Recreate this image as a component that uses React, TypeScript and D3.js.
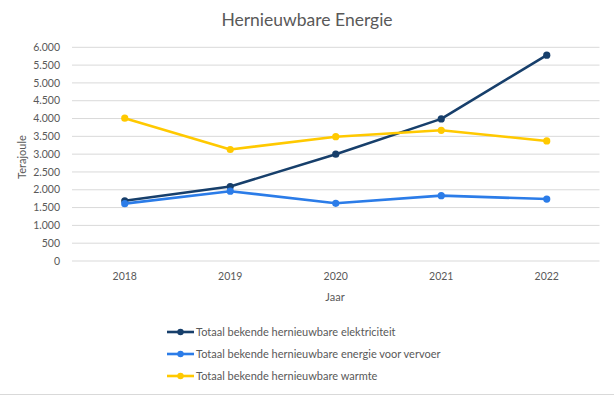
import React from "react";
import * as d3 from "d3";

const years = ["2018", "2019", "2020", "2021", "2022"];
const elektriciteit = [1690, 2090, 3000, 3990, 5780];
const vervoer = [1610, 1960, 1620, 1835, 1740];
const warmte = [4010, 3130, 3490, 3670, 3370];
const yTicks = [0, 500, 1000, 1500, 2000, 2500, 3000, 3500, 4000, 4500, 5000, 5500, 6000];
const seriesNames = [
  "Totaal bekende hernieuwbare elektriciteit",
  "Totaal bekende hernieuwbare energie voor vervoer",
  "Totaal bekende hernieuwbare warmte",
];
const seriesColors = ["#173f6b", "#2b7ce8", "#ffc900"];

const W = 614;
const H = 396;
const FONT = "Lato, 'Open Sans', sans-serif";

export default function App() {
  const x = d3.scaleBand<string>().domain(years).range([72, 599.5]);
  const y = d3.scaleLinear().domain([0, 6000]).range([261, 47.3]);
  const fmt = (v: number) => d3.format(",")(v).replace(/,/g, ".");
  const line = d3
    .line<number>()
    .x((_, i) => (x(years[i]) as number) + x.bandwidth() / 2)
    .y((d) => y(d));
  const allSeries = [elektriciteit, vervoer, warmte];
  const legendY = [332, 354, 376];

  return (
    <svg
      width={W}
      height={H}
      style={{ position: "absolute", left: 0, top: 0, background: "#fff" }}
      fontFamily={FONT}
    >
      <rect x={0} y={0} width={W} height={H} fill="#fff" />
      <text x={307} y={26} textAnchor="middle" fontSize={17.5} fill="#595959">
        Hernieuwbare Energie
      </text>
      {yTicks.map((t) => (
        <g key={t}>
          <line x1={72} x2={599.5} y1={y(t)} y2={y(t)} stroke="#d9d9d9" strokeWidth={1} />
          <text x={60} y={y(t)} dy="0.35em" textAnchor="end" fontSize={10.5} fill="#595959">
            {fmt(t)}
          </text>
        </g>
      ))}
      <text
        transform="translate(22,157) rotate(-90)"
        textAnchor="middle"
        dy="0.35em"
        fontSize={11}
        fill="#595959"
      >
        Terajoule
      </text>
      {years.map((yr) => (
        <text
          key={yr}
          x={(x(yr) as number) + x.bandwidth() / 2}
          y={276}
          dy="0.35em"
          textAnchor="middle"
          fontSize={10.5}
          fill="#595959"
        >
          {yr}
        </text>
      ))}
      <text x={335} y={297.5} dy="0.35em" textAnchor="middle" fontSize={11} fill="#595959">
        Jaar
      </text>
      {allSeries.map((s, si) => (
        <g key={si}>
          <path d={line(s) || ""} fill="none" stroke={seriesColors[si]} strokeWidth={2.6} strokeLinejoin="round" />
          {s.map((v, i) => (
            <circle
              key={i}
              cx={(x(years[i]) as number) + x.bandwidth() / 2}
              cy={y(v)}
              r={3.6}
              fill={seriesColors[si]}
            />
          ))}
        </g>
      ))}
      {seriesNames.map((n, i) => (
        <g key={n}>
          <line x1={167} x2={194} y1={legendY[i]} y2={legendY[i]} stroke={seriesColors[i]} strokeWidth={2.6} />
          <circle cx={180.5} cy={legendY[i]} r={3.2} fill={seriesColors[i]} />
          <text x={196} y={legendY[i]} dy="0.35em" fontSize={11} fill="#595959">
            {n}
          </text>
        </g>
      ))}
      <line x1={0} x2={W} y1={394.5} y2={394.5} stroke="#d9d9d9" strokeWidth={1} />
    </svg>
  );
}
